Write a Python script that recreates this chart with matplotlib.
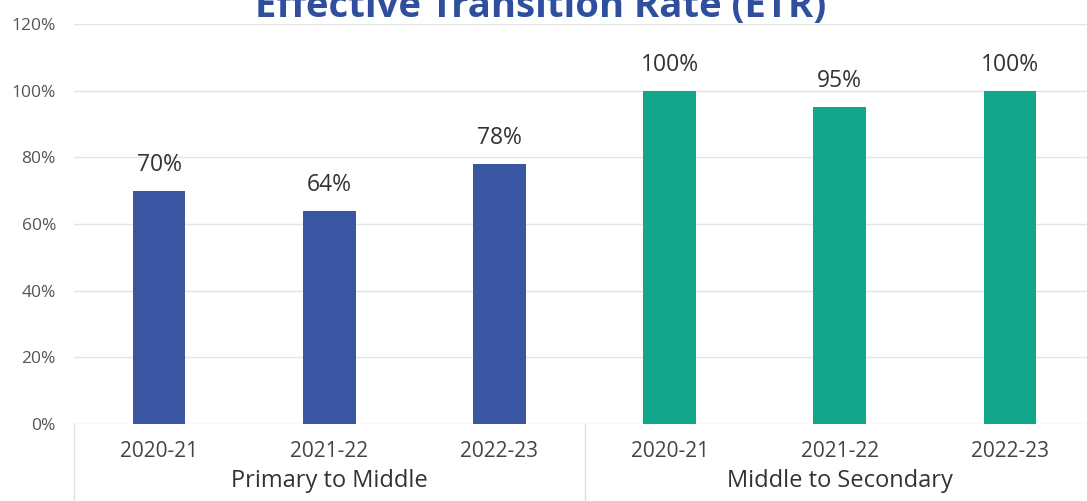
import matplotlib.pyplot as plt
import matplotlib.transforms as mtransforms

plt.rcParams['font.family'] = ['Open Sans', 'DejaVu Sans']

groups = ["Primary to Middle", "Middle to Secondary"]
years = ["2020-21", "2021-22", "2022-23"]
primary_middle = [70, 64, 78]
middle_secondary = [100, 95, 100]
yticks = [0, 20, 40, 60, 80, 100, 120]

blue = "#3a56a3"
teal = "#12a68b"

fig = plt.figure(figsize=(10.87, 5.01), dpi=100)
W, H = 1087, 501
left, right, top, bottom = 74, 1095, 24, 424
ax = fig.add_axes([left / W, (H - bottom) / H, (right - left) / W, (bottom - top) / H])

values = primary_middle + middle_secondary
colors = [blue] * len(primary_middle) + [teal] * len(middle_secondary)
xs = list(range(len(values)))
ax.bar(xs, values, width=0.31, color=colors, zorder=3)

for x, v in zip(xs, values):
    ax.annotate(f"{v}%", (x, v), xytext=(0, 10), textcoords="offset points",
                ha="center", va="bottom", fontsize=16.5, color="#333333")

ax.set_ylim(0, 120)
ax.set_xlim(-0.5, len(values) - 0.5)
ax.set_yticks(yticks)
ax.set_yticklabels([f"{t}%" for t in yticks], fontsize=12.5, color="#555555")
ax.grid(axis="y", color="#e4e4e4", linewidth=1, zorder=0)
for s in ax.spines.values():
    s.set_visible(False)
ax.tick_params(axis="both", length=0)
ax.tick_params(axis="y", pad=13)
ax.set_xticks(xs)
ax.set_xticklabels(years * 2, fontsize=15, color="#444444")
ax.tick_params(axis="x", pad=12)

trans = mtransforms.blended_transform_factory(ax.transData, ax.transAxes)
for sx in [-0.5, 2.5, 5.5]:
    ax.plot([sx, sx], [0, -0.25], transform=trans, color="#e0e0e0", lw=1, clip_on=False)
for i, g in enumerate(groups):
    ax.text(i * 3 + 1, -(481 - bottom) / (bottom - top), g, transform=trans,
            ha="center", va="center", fontsize=17, color="#333333")

fig.text(541 / W, 1 - 17 / H, "Effective Transition Rate (ETR)", ha="center",
         va="baseline", fontsize=27.5, fontweight="bold", color="#2f4f9e")

fig.savefig("out.png", dpi=100)
